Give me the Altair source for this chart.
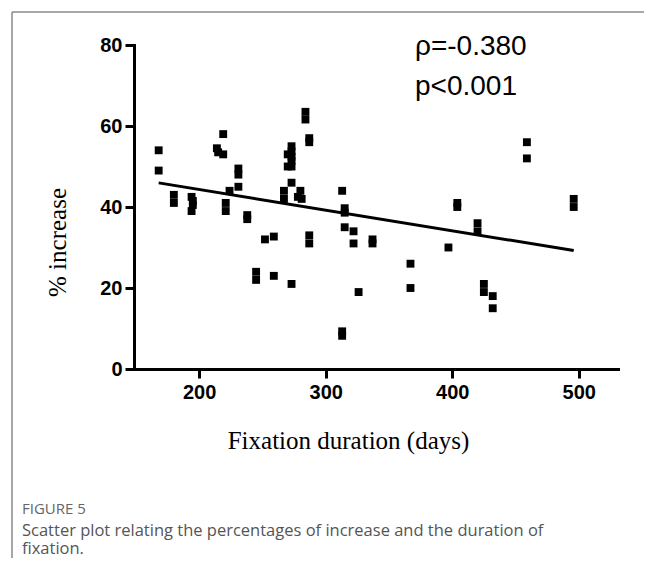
import altair as alt
import pandas as pd

# ---- data ----
days = [168, 168, 180, 180, 194, 195, 195, 194, 214, 215, 219, 219, 221, 221, 224,
        231, 231, 231, 238, 238, 245, 245, 252, 259, 259, 267, 267, 270, 270,
        273, 273, 273, 273, 273, 273, 273, 278, 280, 281, 284, 284, 287, 287, 287, 287,
        313, 313, 313, 315, 315, 315, 322, 322, 326, 337, 337, 367, 367, 397,
        404, 404, 420, 420, 425, 425, 432, 432, 459, 459, 496, 496]
increase = [54, 49, 43, 41, 42.5, 41.5, 40.5, 39, 54.5, 53.5, 53, 58, 41, 39, 44,
            49.5, 48, 45, 38, 37, 24, 22, 32, 32.7, 23, 44, 42, 53, 50,
            55, 53.7, 52.4, 51.4, 50, 46, 21, 42.5, 44, 42, 63.5, 61.6, 57, 56, 33, 31,
            44, 9.3, 8.2, 39.7, 38.6, 35, 34, 31, 19, 32, 31, 26, 20, 30,
            41, 40, 36, 34, 21, 19, 18, 15, 56, 52, 42, 40]

x_ticks = [200, 300, 400, 500]
y_ticks = [0, 20, 40, 60, 80]
x_domain = [148.5, 531]
y_domain = [0, 80]

stats_lines = ["ρ=-0.380", "p<0.001"]
fig_label = ["FIGURE 5"]
caption_lines = ["Scatter plot relating the percentages of increase and the duration of",
                 "fixation."]

df = pd.DataFrame({"day": days, "inc": increase})

W, H = 484, 324

xenc = alt.X("day:Q", scale=alt.Scale(domain=x_domain, nice=False, zero=False),
             axis=alt.Axis(values=x_ticks, title="Fixation duration (days)",
                           titleX=214, titleY=71, titleBaseline="middle",
                           titleAnchor="middle", labelPadding=4))
yenc = alt.Y("inc:Q", scale=alt.Scale(domain=y_domain, nice=False),
             axis=alt.Axis(values=y_ticks, title="% increase",
                           titleX=-77, titleY=197, titleAngle=-90,
                           titleBaseline="middle", titleAnchor="middle",
                           labelPadding=3))

pts = alt.Chart(df).mark_square(size=62, color="black", opacity=1).encode(x=xenc, y=yenc)

reg = alt.Chart(df).transform_regression("day", "inc").mark_line(
    color="black", strokeWidth=3).encode(x="day:Q", y="inc:Q")

stats = alt.Chart(pd.DataFrame({"t": [stats_lines]})).mark_text(
    align="left", baseline="middle", font="Liberation Sans", fontSize=28,
    color="black", lineHeight=40).encode(
    text="t", x=alt.value(281), y=alt.value(2))

figlab = alt.Chart(pd.DataFrame({"t": fig_label})).mark_text(
    align="left", baseline="middle", font="Open Sans", fontSize=15,
    color="#666666").encode(text="t", x=alt.value(-112), y=alt.value(464))

cap1 = alt.Chart(pd.DataFrame({"t": caption_lines[:1]})).mark_text(
    align="left", baseline="middle", font="Open Sans", fontSize=16.5,
    color="#555555").encode(text="t", x=alt.value(-112), y=alt.value(486))

cap2 = alt.Chart(pd.DataFrame({"t": caption_lines[1:]})).mark_text(
    align="left", baseline="alphabetic", font="Open Sans", fontSize=16.5,
    color="#555555").encode(text="t", x=alt.value(-112), y=alt.value(509))

frame_v = alt.Chart(pd.DataFrame({"a": [0]})).mark_rule(
    color="#8a8a8a", strokeWidth=1.5).encode(
    x=alt.value(-122), y=alt.value(-33), y2=alt.value(520))
frame_h = alt.Chart(pd.DataFrame({"a": [0]})).mark_rule(
    color="#8a8a8a", strokeWidth=1.5).encode(
    x=alt.value(-122), x2=alt.value(520), y=alt.value(-33))

chart = alt.layer(frame_v, frame_h, pts, reg, stats, figlab, cap1, cap2).properties(
    width=W, height=H,
    autosize=alt.AutoSizeParams(type="none"),
    padding={"left": 126, "top": 37, "right": 26, "bottom": 189},
).configure_view(stroke=None).configure_axis(
    grid=False, domainColor="black", domainWidth=3, tickColor="black",
    tickWidth=3, tickSize=9, labelFont="Liberation Sans", labelFontWeight="bold",
    labelFontSize=20, labelColor="black", titleFont="Liberation Serif",
    titleFontWeight="normal", titleFontSize=25, titleColor="black",
    domainCap="square")

chart.save("out.html", embed_options={"renderer": "svg", "actions": False})
